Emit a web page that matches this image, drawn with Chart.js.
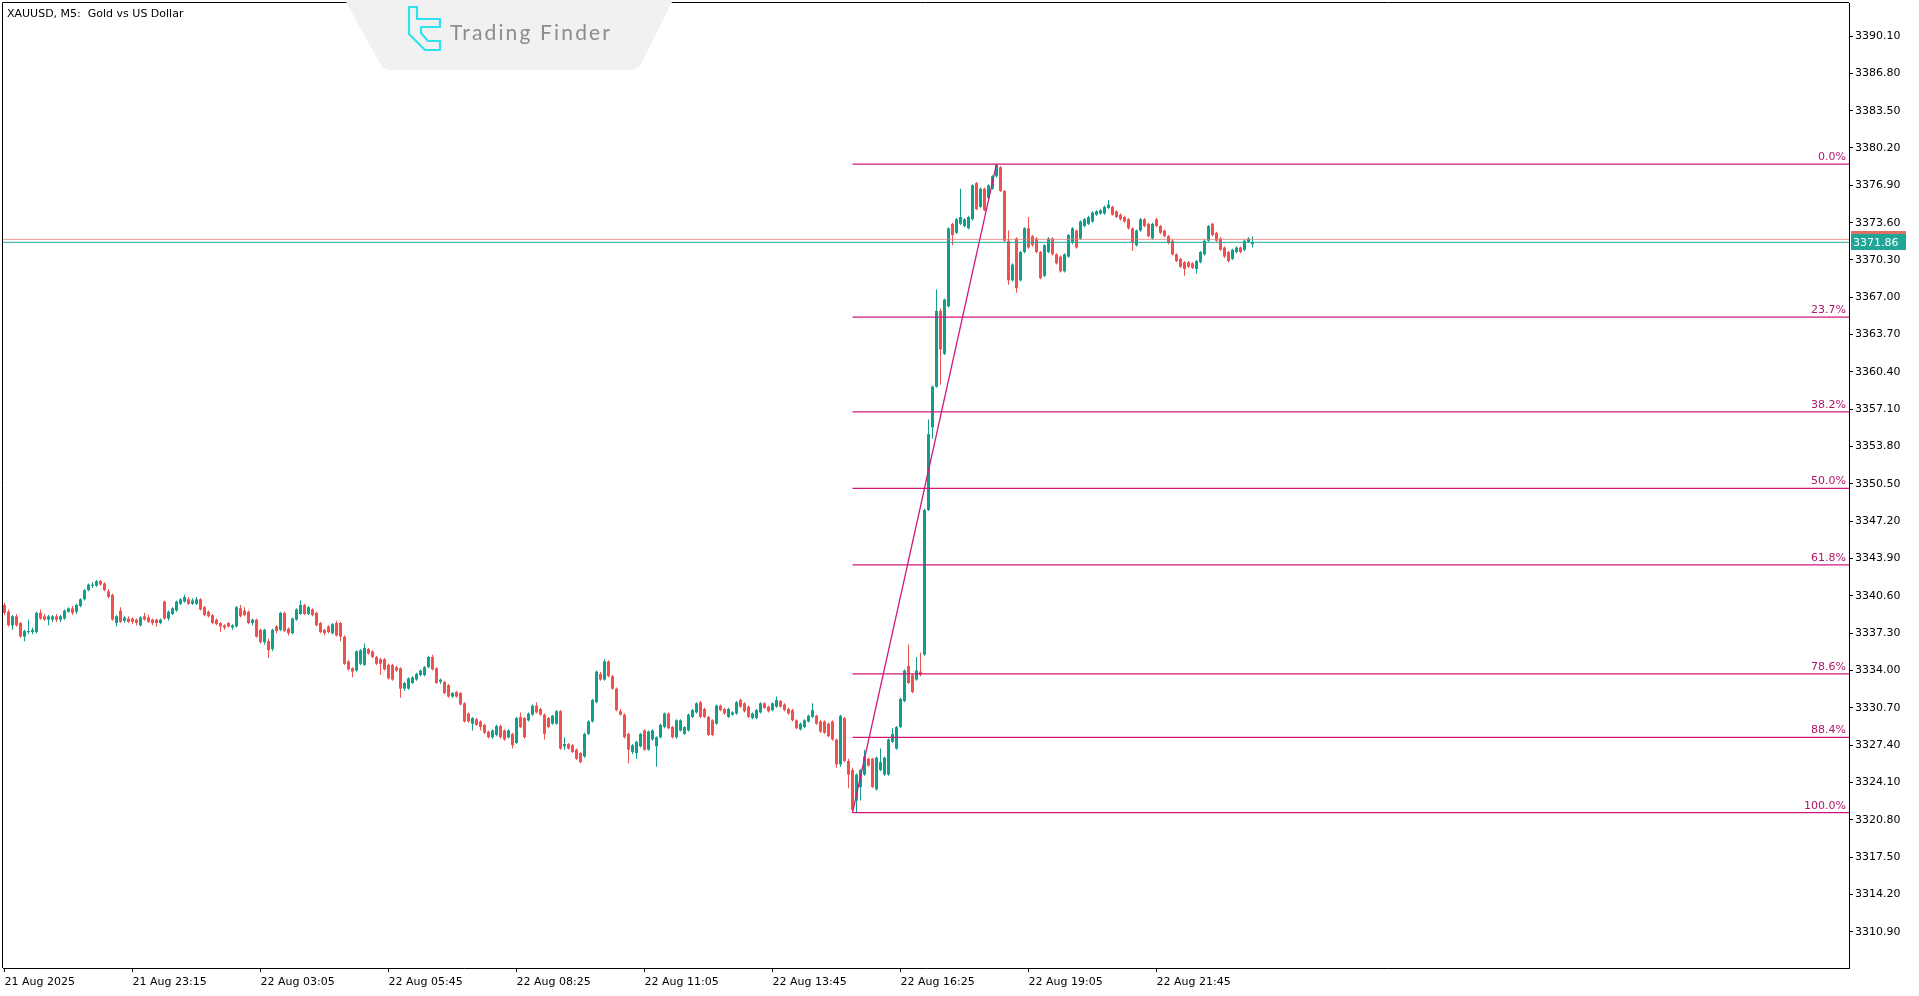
<!DOCTYPE html>
<html>
<head>
<meta charset="utf-8">
<script src="https://cdn.jsdelivr.net/npm/chart.js@4.4.1/dist/chart.umd.min.js"></script>
<style>
  html, body { margin: 0; padding: 0; background: #fff; overflow: hidden; }
  #wrap { position: relative; width: 1919px; height: 996px; }
  #c { position: absolute; left: 0; top: 0; }
  #title { position: absolute; left: 7px; top: 7px; font: 11px "DejaVu Sans", sans-serif; color: #000; white-space: pre; }
  #logo { position: absolute; left: 345px; top: 0; }
</style>
</head>
<body>
<div id="wrap">
  <canvas id="c" width="1919" height="996"></canvas>
  <div id="title">XAUUSD, M5:  Gold vs US Dollar</div>
  <svg id="logo" width="330" height="72" viewBox="0 0 330 72">
    <path d="M0,0 L328,0 L297,62 Q293,70 285,70 L46,70 Q38,70 34,62 Z" fill="#f1f1f1"/>
    <path d="M64,7 H72 V19 H95 V27 H76 V33 L83,41 H95 V50 H80 L64,34 Z" fill="none" stroke="#2fe0ee" stroke-width="2.2" stroke-linejoin="round"/>
    <text x="105" y="40" font-family="Lato, 'Open Sans', sans-serif" font-size="21" fill="#8c8c8c" textLength="160" lengthAdjust="spacing">Trading Finder</text>
  </svg>
</div>
<script>
// 5-minute candles, 21 Aug 2025 evening -> 22 Aug 2025 late
const opens = [
  3339.8, 3339.2, 3338.0, 3338.8, 3338.2, 3337.0, 3337.4, 3337.4, 3337.4, 3339.1,
  3338.8, 3338.5, 3338.5, 3338.8, 3338.5, 3338.6, 3339.2, 3339.5, 3339.2, 3339.7,
  3340.3, 3341.1, 3341.5, 3341.5, 3341.9, 3341.7, 3341.0, 3340.7, 3338.2, 3339.3,
  3338.4, 3338.6, 3338.6, 3338.5, 3338.0, 3338.8, 3338.7, 3338.5, 3338.5, 3338.2,
  3340.1, 3338.6, 3339.0, 3339.3, 3339.9, 3340.1, 3340.3, 3339.9, 3339.9, 3340.3,
  3339.6, 3339.2, 3338.9, 3338.5, 3338.2, 3338.0, 3338.2, 3337.8, 3337.9, 3339.5,
  3339.3, 3339.2, 3338.2, 3338.5, 3337.6, 3336.5, 3336.6, 3335.9, 3337.9, 3337.6,
  3339.1, 3337.7, 3337.3, 3338.5, 3339.0, 3339.8, 3339.0, 3339.4, 3339.1, 3338.2,
  3337.6, 3337.9, 3337.3, 3338.2, 3338.2, 3337.0, 3334.8, 3334.2, 3334.0, 3334.6,
  3334.5, 3335.9, 3335.7, 3335.2, 3335.0, 3335.0, 3334.5, 3334.5, 3334.3, 3334.2,
  3332.4, 3332.4, 3332.9, 3333.2, 3333.6, 3333.6, 3334.3, 3335.2, 3334.2, 3333.0,
  3333.0, 3332.7, 3331.7, 3332.1, 3332.0, 3331.1, 3330.2, 3329.3, 3329.7, 3329.5,
  3329.2, 3328.6, 3328.1, 3328.3, 3329.1, 3328.7, 3328.1, 3328.4, 3327.6, 3329.9,
  3329.8, 3329.6, 3330.1, 3330.9, 3330.6, 3330.1, 3329.8, 3329.3, 3329.3, 3330.4,
  3327.3, 3327.5, 3327.4, 3327.0, 3326.7, 3326.4, 3328.4, 3329.5, 3331.2, 3333.7,
  3333.2, 3334.8, 3333.5, 3332.4, 3330.4, 3330.1, 3328.4, 3326.8, 3326.7, 3327.3,
  3328.7, 3327.0, 3327.9, 3327.3, 3328.1, 3329.0, 3330.2, 3329.0, 3328.1, 3328.7,
  3328.4, 3328.7, 3329.9, 3330.3, 3331.2, 3330.6, 3329.9, 3329.6, 3329.3, 3330.9,
  3330.6, 3329.9, 3330.1, 3330.2, 3331.4, 3331.1, 3330.8, 3329.8, 3329.8, 3330.3,
  3331.1, 3330.8, 3330.5, 3330.8, 3331.3, 3331.0, 3330.6, 3330.5, 3329.6, 3328.8,
  3329.0, 3329.5, 3329.9, 3330.0, 3329.5, 3329.5, 3329.3, 3329.5, 3327.9, 3325.7,
  3329.8, 3326.0, 3325.2, 3322.5, 3323.7, 3324.8, 3326.2, 3326.2, 3323.5, 3325.2,
  3324.8, 3324.8, 3327.7, 3327.1, 3329.0, 3331.3, 3334.4, 3333.6, 3333.2, 3333.9,
  3335.4, 3348.2, 3355.5, 3359.1, 3365.8, 3362.0, 3366.2, 3373.5, 3372.7, 3373.5,
  3373.3, 3373.1, 3373.9, 3377.1, 3375.0, 3376.6, 3375.8, 3376.6, 3377.7, 3378.5,
  3376.4, 3372.0, 3368.5, 3372.2, 3368.5, 3371.0, 3373.1, 3372.4, 3372.2, 3371.0,
  3368.9, 3371.0, 3372.2, 3370.8, 3370.6, 3369.3, 3370.6, 3371.8, 3372.9, 3372.2,
  3373.3, 3373.5, 3373.7, 3374.3, 3374.4, 3374.4, 3374.9, 3375.0, 3374.6, 3374.3,
  3374.1, 3373.9, 3373.1, 3371.6, 3372.9, 3373.9, 3373.5, 3372.2, 3373.9, 3373.3,
  3372.9, 3372.4, 3372.0, 3370.8, 3370.4, 3370.1, 3370.1, 3370.0, 3369.5, 3370.1,
  3370.8, 3372.0, 3373.5, 3372.7, 3372.2, 3371.4, 3371.0, 3370.4, 3371.0, 3371.4,
  3371.2, 3371.9, 3371.7
];
const highs = [
  3340.0, 3339.4, 3338.9, 3339.0, 3338.3, 3337.6, 3338.5, 3337.8, 3339.2, 3339.4,
  3339.0, 3338.9, 3338.9, 3339.0, 3338.9, 3339.4, 3339.6, 3339.7, 3339.9, 3340.4,
  3341.2, 3341.7, 3341.8, 3342.0, 3342.0, 3341.8, 3341.2, 3340.8, 3338.9, 3339.6,
  3338.8, 3338.8, 3338.7, 3338.6, 3338.8, 3339.1, 3338.9, 3338.6, 3338.6, 3338.6,
  3340.2, 3339.3, 3339.6, 3340.2, 3340.4, 3340.7, 3340.5, 3340.4, 3340.5, 3340.4,
  3339.7, 3339.3, 3339.0, 3338.6, 3338.3, 3338.1, 3338.3, 3338.1, 3339.7, 3339.8,
  3339.6, 3339.3, 3338.6, 3338.6, 3337.7, 3337.7, 3336.8, 3337.7, 3338.0, 3339.2,
  3339.2, 3337.8, 3338.7, 3339.5, 3340.2, 3339.9, 3339.7, 3339.5, 3339.2, 3338.3,
  3337.7, 3338.0, 3338.2, 3338.4, 3338.3, 3337.1, 3334.9, 3334.3, 3335.8, 3335.9,
  3336.4, 3336.0, 3335.8, 3335.3, 3335.1, 3335.1, 3334.6, 3334.6, 3334.4, 3334.3,
  3333.0, 3333.4, 3333.5, 3333.8, 3334.1, 3334.4, 3335.3, 3335.4, 3334.3, 3333.3,
  3333.1, 3332.8, 3332.1, 3332.2, 3332.1, 3331.2, 3330.3, 3329.9, 3329.8, 3329.6,
  3329.3, 3328.7, 3328.8, 3329.2, 3329.2, 3328.8, 3328.8, 3328.5, 3329.9, 3330.3,
  3329.9, 3330.3, 3331.0, 3331.2, 3330.7, 3330.2, 3329.9, 3330.1, 3330.5, 3330.5,
  3328.1, 3327.6, 3327.5, 3327.1, 3326.8, 3328.5, 3329.6, 3331.5, 3334.0, 3333.9,
  3335.0, 3334.9, 3333.6, 3332.5, 3330.6, 3330.2, 3328.5, 3327.5, 3327.8, 3328.5,
  3328.8, 3328.7, 3328.8, 3328.2, 3329.3, 3330.3, 3330.3, 3329.1, 3329.7, 3329.7,
  3329.1, 3330.2, 3330.6, 3331.2, 3331.3, 3330.7, 3330.0, 3329.7, 3331.0, 3331.0,
  3330.7, 3330.7, 3330.4, 3331.3, 3331.5, 3331.2, 3330.9, 3330.3, 3330.6, 3331.2,
  3331.2, 3330.9, 3331.2, 3331.7, 3331.4, 3331.1, 3330.7, 3330.6, 3329.7, 3329.4,
  3329.7, 3330.1, 3331.1, 3330.1, 3329.6, 3329.6, 3329.4, 3329.6, 3328.0, 3330.1,
  3329.9, 3326.2, 3325.4, 3324.9, 3325.3, 3327.0, 3326.3, 3326.3, 3326.4, 3327.1,
  3326.4, 3328.0, 3328.9, 3329.1, 3331.6, 3334.1, 3336.3, 3333.7, 3335.2, 3335.6,
  3348.3, 3356.2, 3359.2, 3367.7, 3366.0, 3366.9, 3373.2, 3373.6, 3374.0, 3376.6,
  3374.0, 3374.2, 3377.0, 3377.2, 3376.7, 3376.7, 3377.0, 3377.8, 3378.8, 3378.6,
  3376.5, 3372.9, 3370.0, 3372.3, 3371.1, 3373.2, 3374.1, 3372.5, 3372.3, 3371.1,
  3371.7, 3372.3, 3372.3, 3370.9, 3370.7, 3370.9, 3372.6, 3373.2, 3373.0, 3373.8,
  3374.0, 3374.2, 3374.6, 3374.7, 3374.8, 3375.1, 3375.6, 3375.1, 3374.7, 3374.4,
  3374.2, 3374.0, 3373.2, 3373.0, 3374.0, 3374.0, 3373.6, 3373.6, 3374.0, 3373.4,
  3373.0, 3372.5, 3372.1, 3370.9, 3370.5, 3370.2, 3370.2, 3370.1, 3370.3, 3371.1,
  3372.1, 3373.4, 3373.6, 3372.8, 3372.3, 3371.5, 3371.1, 3371.3, 3371.5, 3371.5,
  3372.1, 3372.3, 3372.4
];
const lows = [
  3338.9, 3337.9, 3337.6, 3337.9, 3336.9, 3336.6, 3337.2, 3337.2, 3337.3, 3338.5,
  3338.4, 3338.0, 3338.3, 3338.3, 3338.3, 3338.5, 3339.1, 3338.9, 3339.0, 3339.6,
  3340.2, 3341.0, 3341.3, 3341.4, 3341.5, 3341.0, 3340.4, 3338.4, 3337.9, 3338.2,
  3338.2, 3338.2, 3338.1, 3338.0, 3337.9, 3338.4, 3338.2, 3338.0, 3337.9, 3338.1,
  3338.5, 3338.4, 3338.9, 3339.2, 3339.8, 3340.0, 3339.8, 3339.8, 3339.8, 3339.3,
  3338.8, 3338.7, 3338.1, 3338.0, 3337.4, 3337.6, 3337.8, 3337.6, 3337.8, 3338.7,
  3338.8, 3338.1, 3338.0, 3336.9, 3336.4, 3336.3, 3335.1, 3335.7, 3337.3, 3337.5,
  3337.4, 3337.1, 3337.2, 3338.4, 3338.9, 3338.9, 3338.9, 3338.8, 3337.9, 3337.3,
  3337.1, 3337.3, 3337.2, 3337.0, 3336.6, 3334.5, 3334.0, 3333.4, 3333.9, 3334.5,
  3334.4, 3335.4, 3335.1, 3334.5, 3333.6, 3334.0, 3333.2, 3333.1, 3333.9, 3331.6,
  3332.2, 3332.3, 3332.8, 3333.1, 3333.5, 3333.5, 3334.2, 3334.0, 3332.8, 3332.8,
  3331.9, 3331.6, 3331.6, 3331.6, 3330.9, 3329.4, 3329.4, 3328.7, 3329.1, 3328.7,
  3328.4, 3328.0, 3328.0, 3328.2, 3328.0, 3327.8, 3328.0, 3327.1, 3327.5, 3328.9,
  3328.0, 3329.5, 3330.0, 3330.2, 3330.0, 3327.9, 3328.9, 3329.2, 3329.2, 3327.0,
  3327.0, 3327.0, 3326.7, 3326.1, 3325.8, 3326.3, 3328.3, 3329.4, 3331.1, 3333.1,
  3333.1, 3333.4, 3332.3, 3330.4, 3330.0, 3328.0, 3325.8, 3326.6, 3326.2, 3327.2,
  3326.9, 3326.9, 3327.8, 3325.5, 3328.0, 3328.9, 3328.8, 3328.0, 3328.0, 3328.6,
  3328.3, 3328.6, 3329.8, 3330.2, 3329.8, 3329.8, 3328.2, 3328.2, 3329.2, 3330.4,
  3330.1, 3329.8, 3330.0, 3330.1, 3330.7, 3330.3, 3329.8, 3329.7, 3329.7, 3330.2,
  3330.6, 3330.3, 3330.4, 3330.7, 3330.7, 3330.4, 3330.1, 3329.5, 3328.8, 3328.7,
  3328.9, 3329.4, 3329.8, 3329.2, 3328.5, 3328.4, 3328.1, 3327.8, 3325.4, 3325.5,
  3325.9, 3323.6, 3321.4, 3321.5, 3322.5, 3324.7, 3325.5, 3323.6, 3323.4, 3325.1,
  3324.7, 3324.7, 3327.6, 3327.0, 3328.9, 3331.2, 3332.8, 3332.0, 3333.1, 3333.5,
  3335.3, 3348.1, 3354.5, 3359.0, 3359.3, 3361.9, 3366.1, 3371.6, 3372.6, 3373.4,
  3373.2, 3373.0, 3373.8, 3374.7, 3374.9, 3374.6, 3375.7, 3376.5, 3377.6, 3376.3,
  3371.9, 3368.1, 3368.4, 3367.4, 3368.4, 3370.9, 3371.3, 3371.5, 3370.9, 3368.6,
  3368.8, 3370.9, 3370.7, 3369.9, 3369.2, 3369.2, 3370.5, 3371.7, 3371.3, 3372.1,
  3373.2, 3373.4, 3373.6, 3374.2, 3374.3, 3374.3, 3374.8, 3374.2, 3374.0, 3373.8,
  3373.6, 3373.0, 3371.1, 3371.5, 3372.8, 3373.2, 3372.3, 3372.1, 3373.2, 3372.6,
  3372.3, 3371.7, 3370.7, 3370.1, 3369.6, 3368.9, 3369.6, 3369.5, 3369.1, 3370.0,
  3370.7, 3371.9, 3372.4, 3371.9, 3371.1, 3370.5, 3370.1, 3370.3, 3370.9, 3370.9,
  3371.1, 3371.8, 3371.4
];
const closes = [
  3339.1, 3338.0, 3338.8, 3338.0, 3337.0, 3337.5, 3337.5, 3337.6, 3339.1, 3338.6,
  3338.5, 3338.8, 3338.8, 3338.5, 3338.8, 3339.3, 3339.5, 3339.1, 3339.8, 3340.3,
  3341.1, 3341.6, 3341.6, 3341.9, 3341.6, 3341.1, 3340.5, 3338.5, 3338.8, 3338.3,
  3338.7, 3338.3, 3338.3, 3338.2, 3338.7, 3338.5, 3338.3, 3338.2, 3338.2, 3338.5,
  3338.6, 3339.2, 3339.5, 3340.1, 3340.3, 3340.5, 3339.9, 3340.2, 3340.3, 3339.4,
  3338.9, 3338.8, 3338.2, 3338.1, 3337.9, 3337.8, 3337.9, 3338.0, 3339.6, 3338.8,
  3338.9, 3338.2, 3338.5, 3337.0, 3336.5, 3337.6, 3335.8, 3337.6, 3337.5, 3339.1,
  3337.5, 3337.3, 3338.6, 3339.4, 3339.8, 3339.0, 3339.6, 3338.9, 3338.0, 3337.4,
  3337.3, 3337.4, 3338.1, 3337.1, 3337.0, 3334.6, 3334.1, 3333.9, 3335.7, 3335.8,
  3336.0, 3335.5, 3335.2, 3334.6, 3334.6, 3334.1, 3333.3, 3333.2, 3334.0, 3332.4,
  3332.9, 3333.3, 3333.4, 3333.7, 3334.0, 3334.3, 3335.2, 3334.1, 3332.9, 3333.2,
  3332.0, 3331.7, 3332.0, 3331.7, 3331.0, 3329.5, 3329.5, 3329.8, 3329.2, 3329.0,
  3328.5, 3328.1, 3328.7, 3329.1, 3328.1, 3327.9, 3328.7, 3327.4, 3329.8, 3329.0,
  3328.1, 3330.2, 3330.9, 3330.3, 3330.1, 3328.4, 3329.0, 3330.0, 3330.4, 3327.1,
  3327.5, 3327.1, 3326.8, 3326.2, 3325.9, 3328.4, 3329.5, 3331.4, 3333.9, 3333.2,
  3334.8, 3333.5, 3332.4, 3330.5, 3330.1, 3328.1, 3327.0, 3327.4, 3327.7, 3328.4,
  3327.0, 3328.6, 3328.7, 3328.1, 3329.2, 3330.2, 3328.9, 3328.1, 3329.6, 3329.6,
  3329.0, 3330.1, 3330.5, 3331.1, 3329.9, 3329.9, 3328.3, 3328.3, 3330.9, 3330.5,
  3330.2, 3330.6, 3330.3, 3331.2, 3330.8, 3330.4, 3329.9, 3330.2, 3330.5, 3331.1,
  3330.7, 3330.4, 3331.1, 3331.4, 3330.8, 3330.5, 3330.2, 3329.6, 3328.9, 3329.3,
  3329.6, 3330.0, 3330.5, 3329.3, 3328.6, 3328.5, 3328.2, 3327.9, 3325.7, 3330.0,
  3326.0, 3324.8, 3321.7, 3324.8, 3325.2, 3326.4, 3325.6, 3323.7, 3326.3, 3325.9,
  3326.3, 3327.9, 3328.4, 3329.0, 3331.5, 3334.0, 3332.9, 3332.1, 3334.0, 3333.6,
  3348.2, 3354.9, 3359.1, 3365.8, 3362.4, 3366.8, 3373.1, 3372.5, 3373.9, 3374.1,
  3373.9, 3374.1, 3376.9, 3374.8, 3376.6, 3374.7, 3376.9, 3377.7, 3378.7, 3376.4,
  3372.0, 3368.5, 3369.9, 3367.8, 3371.0, 3373.1, 3371.4, 3371.6, 3371.0, 3368.7,
  3371.6, 3372.2, 3370.8, 3370.0, 3369.3, 3370.8, 3372.5, 3373.1, 3371.4, 3373.7,
  3373.9, 3374.1, 3374.5, 3374.6, 3374.7, 3375.0, 3375.2, 3374.3, 3374.1, 3373.9,
  3373.7, 3373.1, 3371.8, 3372.9, 3373.9, 3373.3, 3372.4, 3373.5, 3373.3, 3372.7,
  3372.4, 3371.8, 3370.8, 3370.2, 3369.7, 3369.5, 3369.7, 3369.6, 3370.2, 3371.0,
  3372.0, 3373.3, 3372.5, 3372.0, 3371.2, 3370.6, 3370.2, 3371.2, 3371.4, 3371.0,
  3372.0, 3372.2, 3371.86
];

// time axis labels (bar index where each label sits)
const timeTickIndex = [0, 32, 64, 96, 128, 160, 192, 224, 256, 288];
const timeLabels = ['21 Aug 2025', '21 Aug 23:15', '22 Aug 03:05', '22 Aug 05:45', '22 Aug 08:25',
  '22 Aug 11:05', '22 Aug 13:45', '22 Aug 16:25', '22 Aug 19:05', '22 Aug 21:45'];

// price axis labels
const priceTicks = ['3310.90', '3314.20', '3317.50', '3320.80', '3324.10', '3327.40', '3330.70',
  '3334.00', '3337.30', '3340.60', '3343.90', '3347.20', '3350.50', '3353.80', '3357.10',
  '3360.40', '3363.70', '3367.00', '3370.30', '3373.60', '3376.90', '3380.20', '3383.50',
  '3386.80', '3390.10'];

// fibonacci retracement drawn from the swing low to the swing high
const fibLow = 3321.43;
const fibHigh = 3378.78;
const fibStartBar = 212;
const fibEndBar = 248;
const fibRatios = [0, 0.236, 0.382, 0.5, 0.618, 0.786, 0.884, 1];
const fibLabels = ['0.0%', '23.7%', '38.2%', '50.0%', '61.8%', '78.6%', '88.4%', '100.0%'];

// current bid / ask
const bidPrice = 3371.86;
const askPrice = 3372.12;

const bullColor = 'rgb(18,158,138)';
const bearColor = 'rgb(238,82,80)';
const fibColor = 'rgb(204,24,122)';
const fibTextColor = 'rgb(176,22,104)';
const bidColor = 'rgb(32,166,150)';
const askColor = 'rgb(226,110,100)';

const X_MIN = -0.375;
const X_MAX = 461.125;

const candleColors = closes.map((c, i) => c >= opens[i] ? bullColor : bearColor);
const fibPrice = r => fibHigh - r * (fibHigh - fibLow);

let datasets = [];

// price lines on top
datasets.push({
  type: 'line', order: 0, data: [{x: X_MIN, y: askPrice}, {x: X_MAX, y: askPrice}],
  borderColor: 'rgba(226,120,110,0.75)', borderWidth: 1, pointRadius: 0
});
datasets.push({
  type: 'line', order: 0, data: [{x: X_MIN, y: bidPrice}, {x: X_MAX, y: bidPrice}],
  borderColor: bidColor, borderWidth: 1, pointRadius: 0
});

// fib levels
fibRatios.forEach(r => {
  datasets.push({
    type: 'line', order: 0, data: [{x: fibStartBar, y: fibPrice(r)}, {x: X_MAX, y: fibPrice(r)}],
    borderColor: fibColor, borderWidth: 1.3, pointRadius: 0
  });
});

// trend line low -> high
datasets.push({
  type: 'line', order: 0, data: [{x: fibStartBar, y: fibLow}, {x: fibEndBar, y: fibHigh}],
  borderColor: fibColor, borderWidth: 1.3, pointRadius: 0
});

// candle bodies
datasets.push({
  type: 'bar', order: 1, grouped: false,
  data: opens.map((o, i) => ({x: i, y: [o, closes[i]]})),
  backgroundColor: candleColors, barThickness: 3, minBarLength: 1,
  borderWidth: 0, inflateAmount: 0
});

// wicks
datasets.push({
  type: 'bar', order: 2, grouped: false,
  data: opens.map((o, i) => ({x: i, y: [lows[i], highs[i]]})),
  backgroundColor: candleColors, barThickness: 1,
  borderWidth: 0, inflateAmount: 0
});

// frame, fib labels and bid/ask boxes
const overlayPlugin = {
  id: 'overlay',
  afterDraw(chart) {
    const ctx = chart.ctx;
    const a = chart.chartArea;
    const ys = chart.scales.y;
    ctx.save();

    ctx.strokeStyle = '#000';
    ctx.lineWidth = 1;
    ctx.beginPath();
    ctx.moveTo(a.left - 0.5, a.bottom);
    ctx.lineTo(a.left - 0.5, a.top - 0.5);
    ctx.lineTo(a.right, a.top - 0.5);
    ctx.stroke();

    ctx.font = '11px "DejaVu Sans"';
    ctx.fillStyle = fibTextColor;
    ctx.textAlign = 'right';
    ctx.textBaseline = 'alphabetic';
    fibRatios.forEach((r, i) => {
      const py = ys.getPixelForValue(fibPrice(r));
      ctx.fillText(fibLabels[i], a.right - 3, py - 4);
    });

    const ay = Math.round(ys.getPixelForValue(askPrice));
    const by = Math.round(ys.getPixelForValue(bidPrice));
    ctx.fillStyle = askColor;
    ctx.fillRect(a.right + 2, ay - 8, 55, 16);
    ctx.fillStyle = bidColor;
    ctx.fillRect(a.right + 2, by - 8, 55, 16);
    ctx.fillStyle = '#fff';
    ctx.textAlign = 'left';
    ctx.textBaseline = 'middle';
    ctx.font = '11px "DejaVu Sans"';
    ctx.fillText(bidPrice.toFixed(2), a.right + 4, by + 1);
    ctx.restore();
  }
};

Chart.defaults.font.family = '"DejaVu Sans", sans-serif';
Chart.defaults.font.size = 11;
Chart.defaults.color = '#000';

new Chart(document.getElementById('c'), {
  type: 'bar',
  data: { datasets: datasets },
  options: {
    responsive: false,
    animation: false,
    events: [],
    devicePixelRatio: 1,
    layout: { padding: { left: 3, top: 3, right: 0, bottom: 0 } },
    plugins: { legend: { display: false }, tooltip: { enabled: false } },
    scales: {
      x: {
        type: 'linear', min: X_MIN, max: X_MAX, offset: false,
        grid: { display: true, drawOnChartArea: false, drawTicks: true, tickLength: 4, color: '#000', offset: false },
        border: { display: true, color: '#000', width: 1 },
        ticks: {
          autoSkip: false, maxRotation: 0, align: 'start', padding: 4, color: '#000',
          callback: v => timeLabels[timeTickIndex.indexOf(v)]
        },
        afterBuildTicks: s => { s.ticks = timeTickIndex.map(v => ({value: v})); },
        afterFit: s => { s.height = 28; s.paddingLeft = 0; s.paddingRight = 0; }
      },
      y: {
        type: 'linear', position: 'right', min: 3307.70, max: 3393.02, beginAtZero: false,
        grid: { display: true, drawOnChartArea: false, drawTicks: true, tickLength: 4, color: '#000' },
        border: { display: true, color: '#000', width: 1 },
        ticks: {
          autoSkip: false, padding: 2, color: '#000',
          callback: v => v.toFixed(2)
        },
        afterBuildTicks: s => { s.ticks = priceTicks.map(t => ({value: parseFloat(t)})); },
        afterFit: s => { s.width = 70; s.paddingTop = 0; s.paddingBottom = 0; }
      }
    }
  },
  plugins: [overlayPlugin]
});
</script>
</body>
</html>
